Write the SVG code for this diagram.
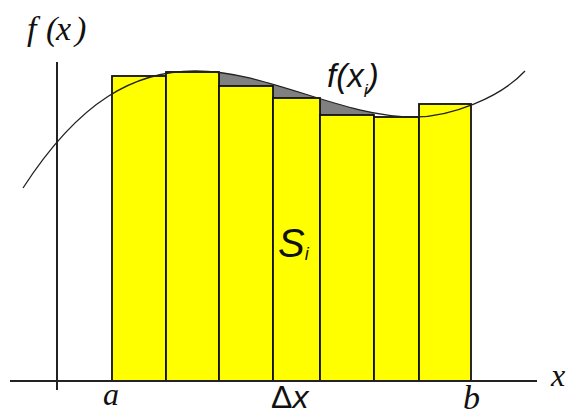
<svg xmlns="http://www.w3.org/2000/svg" width="567" height="416" viewBox="0 0 567 416">
<style>
.bar{fill:#ffff00;stroke:#111;stroke-width:1.8}
.ax{stroke:#222;stroke-width:2;fill:none}
.crv{stroke:#222;stroke-width:1.3;fill:none}
.serif{font-family:"Liberation Serif","DejaVu Serif",serif;font-style:italic;fill:#111}
.sans{font-family:"Liberation Sans",Arial,sans-serif;fill:#111}
</style>
<defs>
<clipPath id="gclip"><rect x="219" y="50" width="155" height="80"/></clipPath>
</defs>
<rect width="567" height="416" fill="#fff"/>
<g id="gap" clip-path="url(#gclip)">
<path d="M195,71 C270,71 340,117 415,117 L415,130 L195,130 Z" fill="#808080"/>
</g>
<g id="bars">
<rect class="bar" x="112" y="76" width="54" height="305"/>
<rect class="bar" x="166" y="72" width="53" height="309"/>
<rect class="bar" x="219" y="86" width="54" height="295"/>
<rect class="bar" x="273" y="98" width="47" height="283"/>
<rect class="bar" x="320" y="115" width="54" height="266"/>
<rect class="bar" x="374" y="117" width="45" height="264"/>
<rect class="bar" x="419" y="104" width="52" height="277"/>
</g>
<g id="curve">
<path class="crv" d="M23,188 C80,100 135,71 195,71 C270,71 340,117 415,117 C450,117 500,98 525,71"/>
</g>
<g id="axes">
<line class="ax" x1="57" y1="62" x2="57" y2="390" stroke-width="1.6"/>
<line class="ax" x1="10" y1="381" x2="537" y2="381"/>
</g>
<g id="labels">
<text class="serif" x="27 46 56 75" y="40" font-size="34">f(x)</text>
<text class="sans" x="327" y="87" font-size="33" font-style="italic">f(x<tspan font-size="18" dy="10">i</tspan><tspan dy="-10">)</tspan></text>
<text class="sans" x="278" y="257" font-size="40" font-style="italic">S<tspan font-size="18" dy="3">i</tspan></text>
<text class="serif" x="103" y="405" font-size="32">a</text>
<text class="sans" x="271" y="408" font-size="32">Δ<tspan font-style="italic">x</tspan></text>
<text class="serif" x="463" y="409" font-size="34">b</text>
<text class="serif" x="551" y="386" font-size="32">x</text>
</g>
</svg>
